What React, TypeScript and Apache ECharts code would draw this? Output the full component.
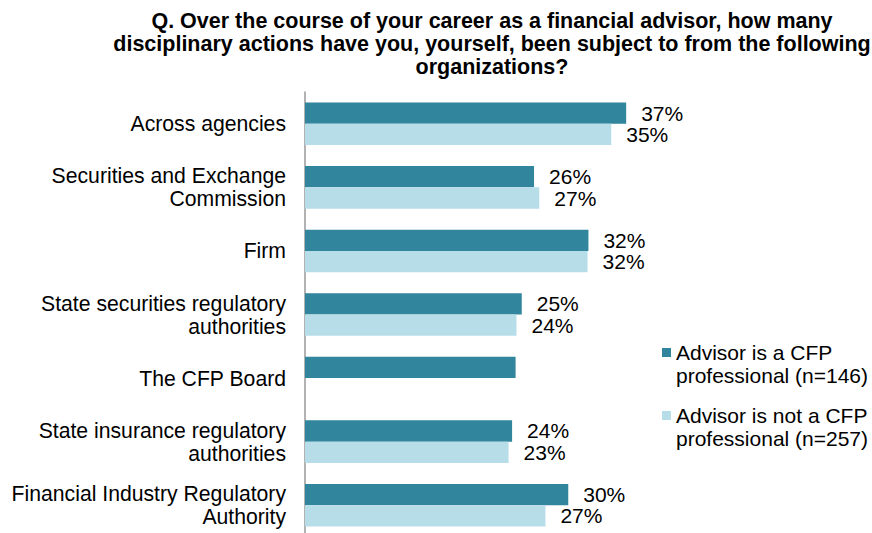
import React, { useEffect, useRef } from "react";
import * as echarts from "echarts";

const titleText =
  "Q. Over the course of your career as a financial advisor, how many\ndisciplinary actions have you, yourself, been subject to from the following\norganizations?";

const categories = [
  "Across agencies",
  "Securities and Exchange\nCommission",
  "Firm",
  "State securities regulatory\nauthorities",
  "The CFP Board",
  "State insurance regulatory\nauthorities",
  "Financial Industry Regulatory\nAuthority",
];

const seriesNames = [
  "Advisor is a CFP\nprofessional (n=146)",
  "Advisor is not a CFP\nprofessional (n=257)",
];

const cfpValues = [36.6, 26.1, 32.3, 24.7, 24.0, 23.6, 30.0];
const nonCfpValues = [34.9, 26.7, 32.2, 24.1, null, 23.2, 27.4];

const cfpLabels = ["37%", "26%", "32%", "25%", "", "24%", "30%"];
const nonCfpLabels = ["35%", "27%", "32%", "24%", "", "23%", "27%"];

const FONT = "'Liberation Sans', Arial, sans-serif";

export default function App() {
  const ref = useRef<HTMLDivElement>(null);

  useEffect(() => {
    if (!ref.current) return;
    const chart = echarts.init(ref.current, undefined, { renderer: "svg" });
    const labelStyle = {
      show: true,
      position: "right" as const,
      distance: 15,
      fontSize: 21,
      color: "#000",
      fontFamily: FONT,
    };
    chart.setOption({
      animation: false,
      backgroundColor: "#fff",
      textStyle: { fontFamily: FONT },
      title: {
        text: titleText,
        left: 487,
        top: 4,
        textAlign: "center",
        textStyle: {
          fontSize: 21.5,
          fontWeight: "bold",
          lineHeight: 23,
          color: "#000",
          fontFamily: FONT,
        },
      },
      legend: {
        orient: "vertical",
        left: 662,
        top: 318,
        padding: 0,
        itemGap: -6,
        itemWidth: 9,
        itemHeight: 9,
        selectedMode: false,
        icon: "rect",
        formatter: (name: string) => "\n" + name,
        textStyle: {
          fontSize: 21,
          lineHeight: 23,
          color: "#000",
          fontFamily: FONT,
        },
        data: seriesNames,
      },
      grid: {
        left: 305,
        right: 216,
        top: 92,
        bottom: -4,
        containLabel: false,
        outerBoundsMode: "none",
      },
      xAxis: {
        type: "value",
        min: 0,
        max: 40,
        show: false,
      },
      yAxis: {
        type: "category",
        inverse: true,
        data: categories,
        axisTick: { show: false },
        axisLine: { show: true, lineStyle: { color: "#999", width: 1.5 } },
        axisLabel: {
          fontSize: 21.2,
          lineHeight: 23,
          color: "#000",
          margin: 19,
          align: "right",
          fontFamily: FONT,
        },
      },
      series: [
        {
          name: seriesNames[0],
          type: "bar",
          data: cfpValues,
          barGap: "0%",
          barCategoryGap: "33%",
          itemStyle: { color: "#31859C" },
          label: {
            ...labelStyle,
            formatter: (p: any) => cfpLabels[p.dataIndex],
          },
        },
        {
          name: seriesNames[1],
          type: "bar",
          data: nonCfpValues,
          barGap: "0%",
          barCategoryGap: "33%",
          itemStyle: { color: "#B7DEE8" },
          label: {
            ...labelStyle,
            formatter: (p: any) => nonCfpLabels[p.dataIndex],
          },
        },
      ],
    });
    return () => chart.dispose();
  }, []);

  return (
    <div
      ref={ref}
      style={{ position: "absolute", left: 0, top: 0, width: 872, height: 533 }}
    />
  );
}
